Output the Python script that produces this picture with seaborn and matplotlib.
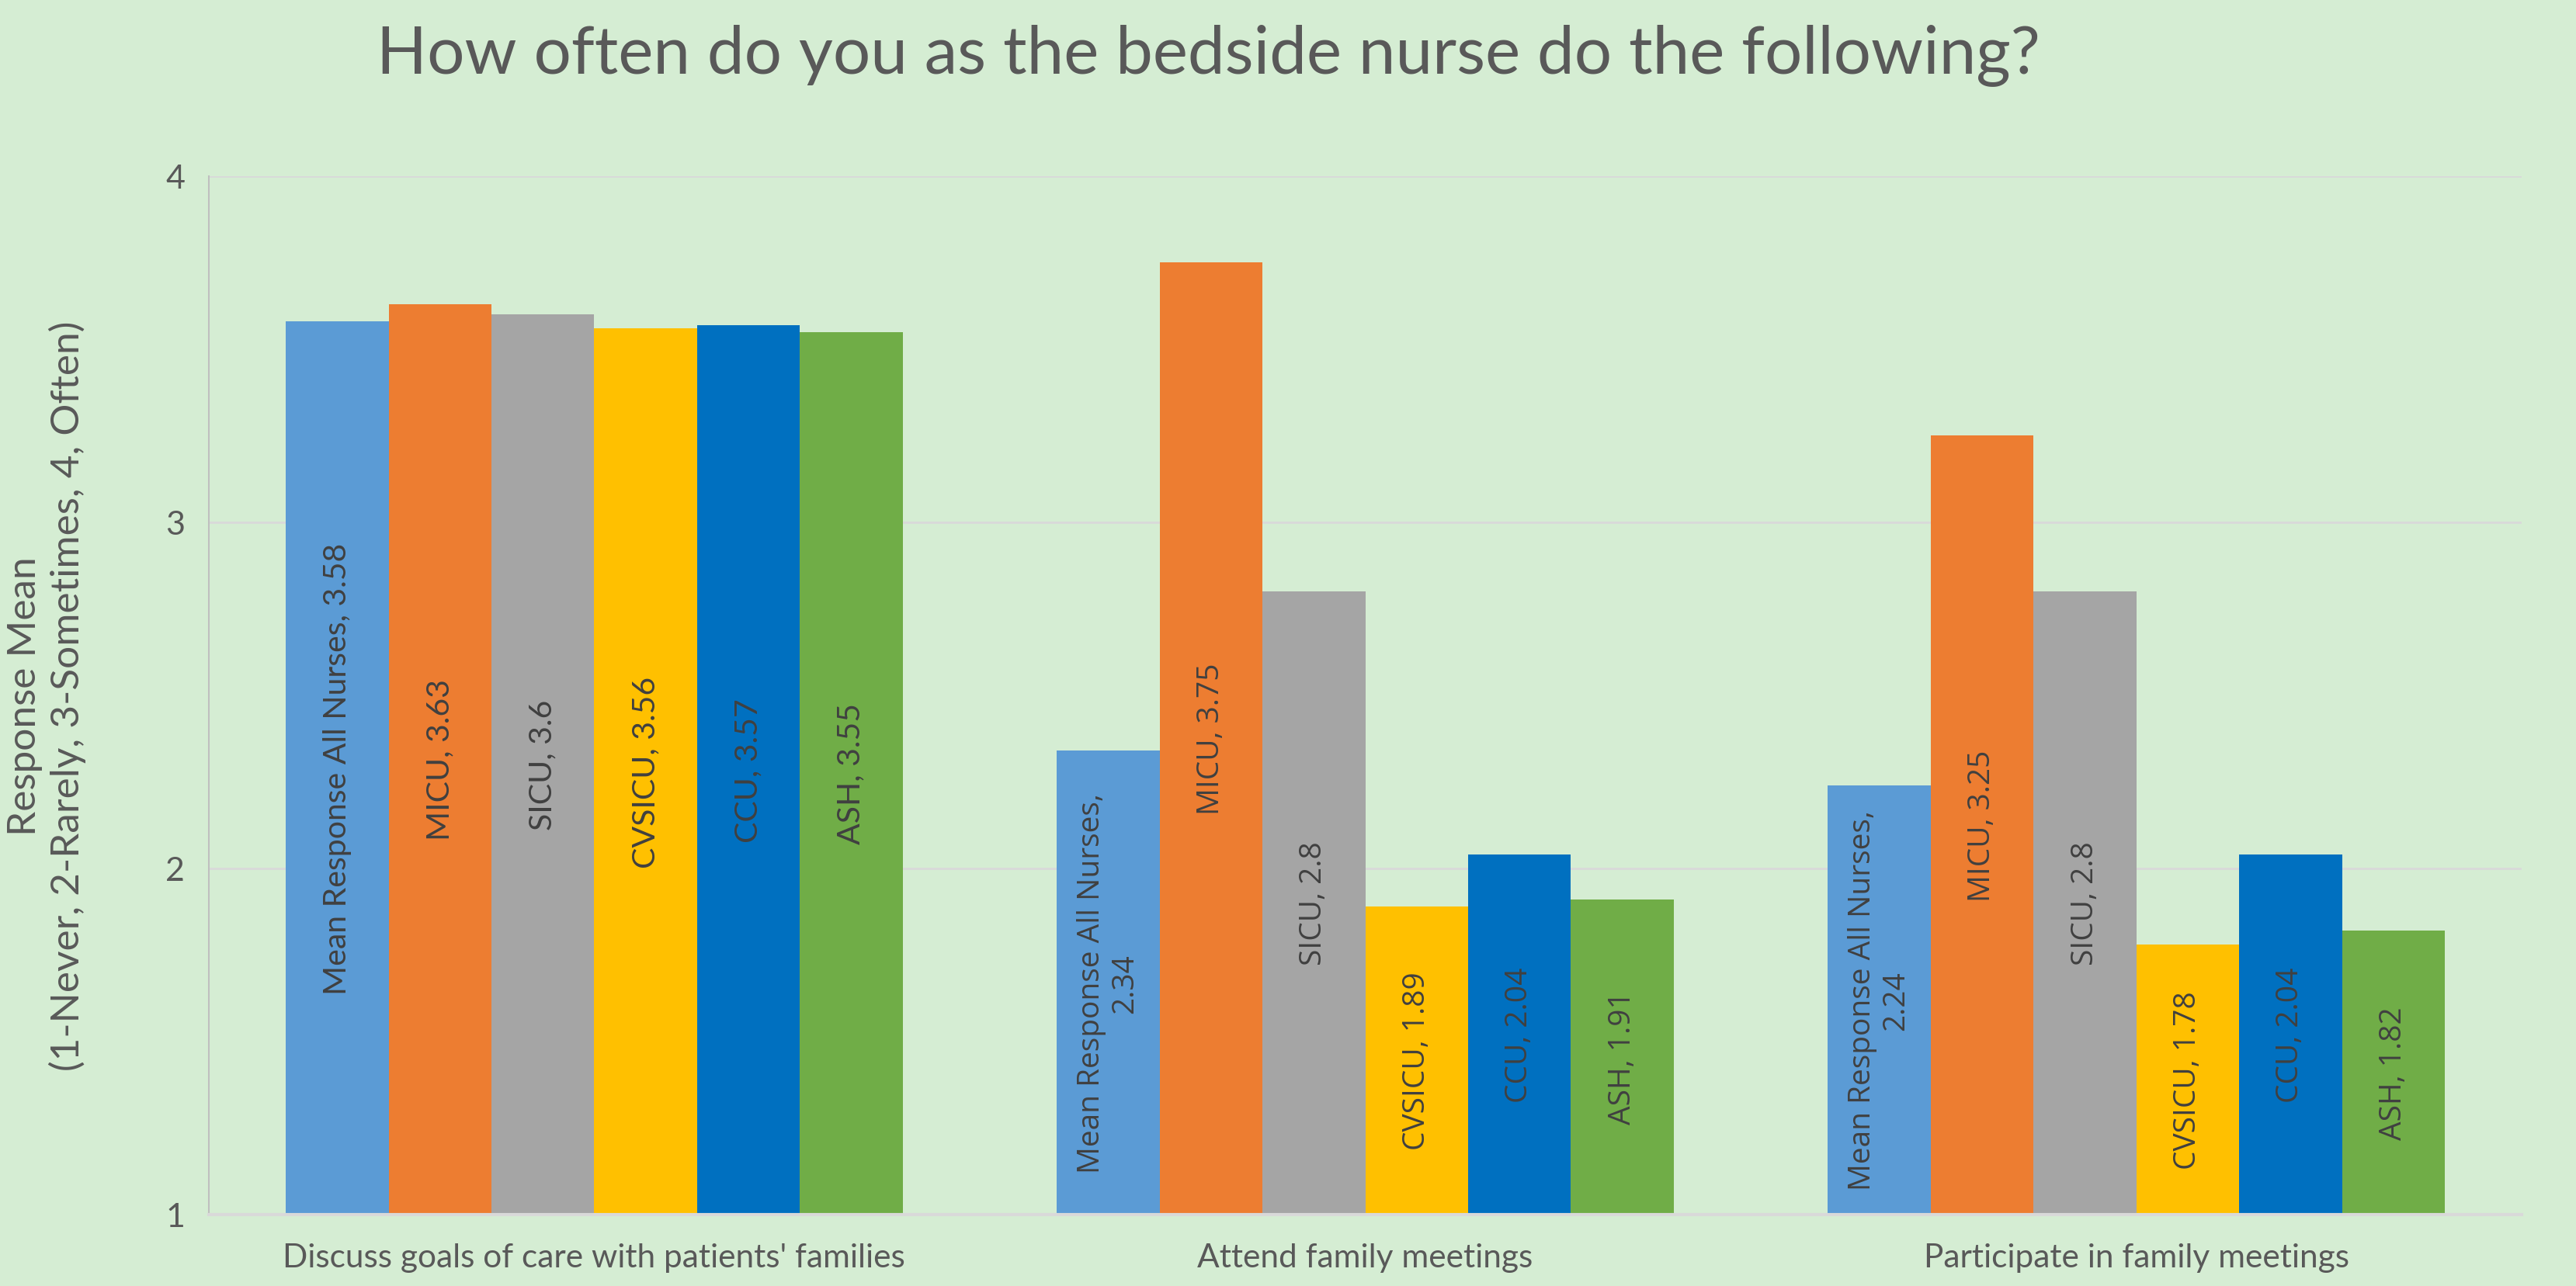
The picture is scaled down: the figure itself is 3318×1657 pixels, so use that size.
import pandas as pd
import matplotlib.pyplot as plt
import seaborn as sns

# chart data
categories = ["Discuss goals of care with patients' families",
              "Attend family meetings",
              "Participate in family meetings"]
units = ["Mean Response All Nurses", "MICU", "SICU", "CVSICU", "CCU", "ASH"]
mean_all = [3.58, 2.34, 2.24]
micu = [3.63, 3.75, 3.25]
sicu = [3.6, 2.8, 2.8]
cvsicu = [3.56, 1.89, 1.78]
ccu = [3.57, 2.04, 2.04]
ash = [3.55, 1.91, 1.82]
yticks = [1, 2, 3, 4]

colors = ["#5B9BD5", "#ED7D31", "#A5A5A5", "#FFC000", "#0070C0", "#70AD47"]
bg = "#D5EDD3"

series = [mean_all, micu, sicu, cvsicu, ccu, ash]
rows = []
for unit, vals in zip(units, series):
    for cat, v in zip(categories, vals):
        rows.append({"category": cat, "unit": unit, "value": v})
df = pd.DataFrame(rows)

sns.set_style("white")
plt.rcParams["font.family"] = ["Lato", "DejaVu Sans"]

fig = plt.figure(figsize=(33.18, 16.58), dpi=100, facecolor=bg)
ax = fig.add_axes([0.081, 0.0555, 0.898, 0.807])
ax.set_facecolor(bg)

sns.barplot(data=df, x="category", y="value", hue="unit", order=categories,
            hue_order=units, palette=colors, width=0.8, saturation=1,
            linewidth=0, legend=False, ax=ax)

ax.set_ylim(1, 4)
ax.set_xlim(-0.5, 2.5)
ax.set_yticks(yticks)
ax.grid(axis="y", color="#D9D9D9", linewidth=2)
ax.set_axisbelow(True)
for s in ["top", "right"]:
    ax.spines[s].set_visible(False)
ax.spines["left"].set_color("#BFBFBF")
ax.spines["left"].set_linewidth(1.5)
ax.spines["bottom"].set_color("#D9D9D9")
ax.spines["bottom"].set_linewidth(3)
ax.tick_params(axis="y", labelsize=31, colors="#595959", length=8,
               width=1.5, color="#BFBFBF", pad=14)
ax.tick_params(axis="x", labelsize=30.5, colors="#595959", length=0, pad=26)
ax.set_xlabel("")
ax.set_ylabel("Response Mean\n(1-Never, 2-Rarely, 3-Sometimes, 4, Often)",
              fontsize=37, color="#595959", linespacing=1.2)
ax.yaxis.set_label_coords(-0.053, 0.5)

# data labels centred inside each bar
for unit, container in zip(units, ax.containers):
    for i, bar in enumerate(container):
        v = bar.get_height()
        txt = f"{unit}, {v:g}"
        fam = ["Lato", "DejaVu Sans"]
        size = 29.5
        if i > 0:
            fam = ["Open Sans", "DejaVu Sans"]
            size = 28
            if unit == units[0]:
                txt = f"{unit},\n{v:g}"
        ax.text(bar.get_x() + bar.get_width() / 2, (1 + v) / 2, txt,
                rotation=90, ha="center", va="center", multialignment="center",
                fontsize=size, family=fam, color="#404040", linespacing=1.15)

fig.text(0.469, 0.957, "How often do you as the bedside nurse do the following?",
         ha="center", va="center", fontsize=61.5, color="#595959")

fig.savefig("out.png", dpi=100, facecolor=bg)
